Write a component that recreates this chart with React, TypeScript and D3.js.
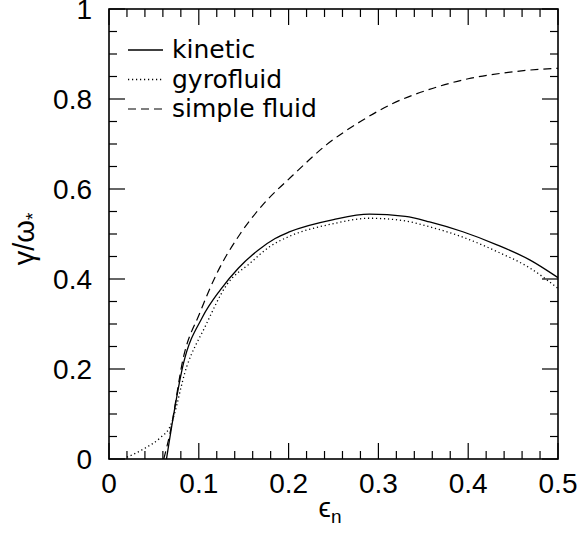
import React from "react";
import * as d3 from "d3";

const epsKinetic = [0.064, 0.083, 0.104, 0.124, 0.144, 0.166, 0.185, 0.2, 0.25, 0.29, 0.33, 0.357, 0.394, 0.432, 0.469, 0.5];
const kinetic = [0, 0.213, 0.315, 0.376, 0.424, 0.464, 0.49, 0.504, 0.532, 0.544, 0.539, 0.527, 0.505, 0.476, 0.442, 0.403];

const epsGyro = [0.02, 0.04, 0.057, 0.068, 0.0865, 0.107, 0.131, 0.157, 0.179, 0.2, 0.25, 0.29, 0.33, 0.357, 0.394, 0.432, 0.469, 0.5];
const gyrofluid = [0.004, 0.024, 0.047, 0.072, 0.205, 0.294, 0.387, 0.435, 0.472, 0.494, 0.523, 0.535, 0.529, 0.516, 0.493, 0.461, 0.424, 0.379];

const epsSimple = [0.061, 0.068, 0.083, 0.101, 0.12, 0.146, 0.17, 0.205, 0.242, 0.28, 0.316, 0.361, 0.4, 0.44, 0.488, 0.5];
const simpleFluid = [0, 0.058, 0.227, 0.324, 0.412, 0.5, 0.562, 0.631, 0.698, 0.75, 0.79, 0.824, 0.845, 0.858, 0.867, 0.868];

const xMajorTicks = [0, 0.1, 0.2, 0.3, 0.4, 0.5];
const xTickLabels = ["0", "0.1", "0.2", "0.3", "0.4", "0.5"];
const yMajorTicks = [0, 0.2, 0.4, 0.6, 0.8, 1];
const yTickLabels = ["0", "0.2", "0.4", "0.6", "0.8", "1"];

const seriesNames = ["kinetic", "gyrofluid", "simple fluid"];

const W = 577, H = 533;
const L = 109, R = 558, T = 9, B = 459;
const FONT_A = "Liberation Sans";
const FONT_B = "DejaVu Sans";

export default function App() {
  const x = d3.scaleLinear().domain([0, 0.5]).range([L, R]);
  const y = d3.scaleLinear().domain([0, 1]).range([B, T]);

  const xMinor = d3.range(0, 0.5001, 0.02).filter((v) => Math.abs(v * 10 - Math.round(v * 10)) > 1e-6);
  const yMinor = d3.range(0, 1.0001, 0.05).filter((v) => Math.abs(v * 5 - Math.round(v * 5)) > 1e-6);

  const line = d3.line<[number, number]>().x((d) => x(d[0])).y((d) => y(d[1])).curve(d3.curveMonotoneX);
  const zip = (a: number[], b: number[]) => a.map((v, i) => [v, b[i]] as [number, number]);

  const series = [
    { name: seriesNames[0], d: line(zip(epsKinetic, kinetic)), dash: undefined as string | undefined, w: 1.3 },
    { name: seriesNames[1], d: line(zip(epsGyro, gyrofluid)), dash: "1.2,2.8", w: 1.3 },
    { name: seriesNames[2], d: line(zip(epsSimple, simpleFluid)), dash: "8,5", w: 1.2 },
  ];

  const MAJ = 16, MIN = 8;

  return (
    <div style={{ position: "absolute", left: 0, top: 0 }}>
      <svg width={W} height={H} style={{ display: "block", background: "#fff" }}>
        <defs>
          <clipPath id="plotclip">
            <rect x={L} y={T} width={R - L} height={B - T} />
          </clipPath>
        </defs>
        <g stroke="#000" strokeWidth={1.2}>
          {xMajorTicks.map((v) => (
            <g key={"xM" + v}>
              <line x1={x(v)} x2={x(v)} y1={B} y2={B - MAJ} />
              <line x1={x(v)} x2={x(v)} y1={T} y2={T + MAJ} />
            </g>
          ))}
          {xMinor.map((v) => (
            <g key={"xm" + v}>
              <line x1={x(v)} x2={x(v)} y1={B} y2={B - MIN} />
              <line x1={x(v)} x2={x(v)} y1={T} y2={T + MIN} />
            </g>
          ))}
          {yMajorTicks.map((v) => (
            <g key={"yM" + v}>
              <line x1={L} x2={L + MAJ} y1={y(v)} y2={y(v)} />
              <line x1={R} x2={R - MAJ} y1={y(v)} y2={y(v)} />
            </g>
          ))}
          {yMinor.map((v) => (
            <g key={"ym" + v}>
              <line x1={L} x2={L + MIN} y1={y(v)} y2={y(v)} />
              <line x1={R} x2={R - MIN} y1={y(v)} y2={y(v)} />
            </g>
          ))}
        </g>
        <g clipPath="url(#plotclip)" fill="none" stroke="#000">
          {series.map((s) => (
            <path key={s.name} d={s.d || ""} strokeWidth={s.w} strokeDasharray={s.dash} />
          ))}
        </g>
        <rect x={L} y={T} width={R - L} height={B - T} fill="none" stroke="#000" strokeWidth={1.6} />
        <g style={{ fontFamily: FONT_A }} fontSize={28} fill="#000">
          {xMajorTicks.map((v, i) => (
            <text key={"xl" + v} x={x(v)} y={493} textAnchor="middle">{xTickLabels[i]}</text>
          ))}
          {yMajorTicks.map((v, i) => (
            <text key={"yl" + v} x={92} y={y(v) + 10} textAnchor="end">{yTickLabels[i]}</text>
          ))}
          <text x={330} y={517} textAnchor="middle">
            ϵ<tspan fontSize={19} dy={6}>n</tspan>
          </text>
          <text transform="translate(34,239) rotate(-90)" textAnchor="middle" fontSize={29}>
            γ/ω<tspan fontSize={19} dy={5}>*</tspan>
          </text>
        </g>
        <g style={{ fontFamily: FONT_B }} fontSize={25} fill="#000">
          {series.map((s, i) => (
            <g key={"lg" + s.name}>
              <line x1={128} x2={163} y1={50 + i * 29.5} y2={50 + i * 29.5} stroke="#000" strokeWidth={s.w} strokeDasharray={s.dash} />
              <text x={172} y={58 + i * 29.5}>{s.name}</text>
            </g>
          ))}
        </g>
      </svg>
    </div>
  );
}
